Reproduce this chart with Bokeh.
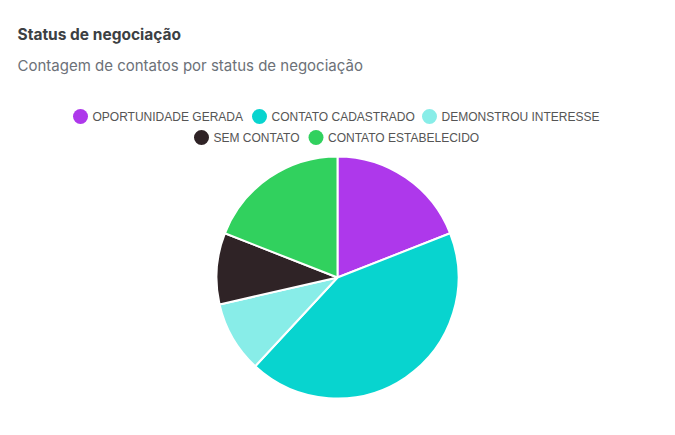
import numpy as np
from bokeh.plotting import figure
from bokeh.models import Range1d, ColumnDataSource
from bokeh.core.properties import value
from bokeh.embed import file_html
from bokeh.resources import INLINE

# ---- data ----
categories = ["OPORTUNIDADE GERADA", "CONTATO CADASTRADO", "DEMONSTROU INTERESSE",
              "SEM CONTATO", "CONTATO ESTABELECIDO"]
counts = [4, 9, 2, 2, 4]
colors = ["#AE38EB", "#08D4CF", "#88EDE8", "#2F2326", "#31D15E"]
title_text = "Status de negociação"
subtitle_text = "Contagem de contatos por status de negociação"

W, H = 675, 435
p = figure(width=W, height=H, output_backend="svg", toolbar_location=None,
           x_range=Range1d(0, W), y_range=Range1d(0, H), min_border=0)
p.axis.visible = False
p.grid.visible = False
p.outline_line_color = None
p.background_fill_color = "white"
p.border_fill_color = "white"

def Y(y):
    return H - y

# pie
vals = np.array(counts, dtype=float)
frac = vals / vals.sum()
cum = np.concatenate([[0], np.cumsum(frac)])
start = np.pi / 2 - cum[:-1] * 2 * np.pi
end = np.pi / 2 - cum[1:] * 2 * np.pi
src = ColumnDataSource(dict(start=start, end=end, color=colors, cat=categories))
p.wedge(x=337, y=Y(277), radius=121, start_angle="start", end_angle="end",
        direction="clock", fill_color="color", line_color="white", line_width=2,
        source=src)

# titles
p.text(x=[17], y=[Y(34)], text=[title_text], text_font=value("Inter"),
       text_font_size="15.5px", text_font_style="bold", text_color="#3c4043",
       text_baseline="alphabetic", text_align="left")
p.text(x=[17], y=[Y(65)], text=[subtitle_text], text_font=value("Inter"),
       text_font_size="15px", text_color="#6c7178",
       text_baseline="alphabetic", text_align="left")

# legend (layout positions)
leg_cx = [80, 259, 429, 201, 315.5]
leg_cy = [116, 116, 116, 137, 137]
p.scatter(x=leg_cx, y=[Y(v) for v in leg_cy], size=15, marker="circle",
          fill_color=colors, line_color=None)
p.text(x=[c + 12 for c in leg_cx], y=[Y(v) for v in leg_cy], text=categories,
       text_font=value("Liberation Sans"), text_font_size="12px",
       text_color="#555555", text_baseline="middle", text_align="left")

open("out.html", "w").write(file_html(p, INLINE))
